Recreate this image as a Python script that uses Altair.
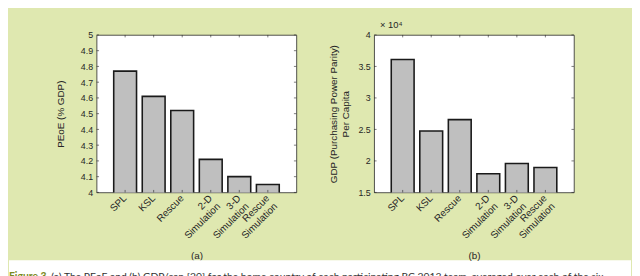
import altair as alt
import pandas as pd

# ---- data ----
categories = ["SPL", "KSL", "Rescue", "2-D|Simulation", "3-D|Simulation", "Rescue|Simulation"]
peoe_values = [4.77, 4.61, 4.52, 4.21, 4.10, 4.05]
gdp_values = [36100, 24750, 26550, 17950, 19600, 18950]
peoe_ticks = [4.0, 4.1, 4.2, 4.3, 4.4, 4.5, 4.6, 4.7, 4.8, 4.9, 5.0]
gdp_ticks = [15000, 20000, 25000, 30000, 35000, 40000]
caption_bold = "Figure 3."
caption_rest = "(a) The PEoE and (b) GDP/cap [20] for the home country of each participating RC 2013 team, averaged over each of the six"

GREEN = "#dfe8b0"
AXC = "#262626"
FONT = "Liberation Sans"
W, H = 203, 160
TL = 2.5  # inward tick length
CAP_TOP = H + 69
CAP_H = 40
NB = "\u00a0"

# multi-line tick labels; the shorter first line is centred over the second (as MATLAB does)
X_LABEL_EXPR = (
    "length(split(datum.label, '|')) > 1 ? "
    "[pad(split(datum.label, '|')[0], length(split(datum.label, '|')[0]) + "
    "floor((length(split(datum.label, '|')[1]) - length(split(datum.label, '|')[0])) * 0.72), '" + NB + "'), "
    "split(datum.label, '|')[1]] : datum.label"
)


def panel(values, ticks, domain, ytitle, xtitle, ylabel_expr, ytitle_pad, title=None, extra=None):
    df = pd.DataFrame({"cat": categories, "val": values})
    tdf = pd.DataFrame({"val": ticks})
    xscale = alt.Scale(domain=categories, paddingInner=0.2, paddingOuter=0.6)
    yscale = alt.Scale(domain=domain, nice=False, zero=False)
    x_axis = alt.Axis(
        title=xtitle, labelAngle=315, labelAlign="right", labelBaseline="middle",
        labelExpr=X_LABEL_EXPR, ticks=False, domain=False, grid=False,
        labelPadding=4, labelFont=FONT, labelFontSize=10, labelColor=AXC, labelLineHeight=11.5,
        titleFont=FONT, titleFontSize=10, titleFontWeight="normal", titleColor=AXC, titlePadding=10,
    )
    y_axis = alt.Axis(
        title=ytitle, values=ticks, labelExpr=ylabel_expr, ticks=False, domain=False, grid=False,
        labelPadding=4, labelFont=FONT, labelFontSize=9, labelColor=AXC,
        titleFont=FONT, titleFontSize=10, titleFontWeight="normal", titleColor=AXC,
        titlePadding=ytitle_pad, titleLineHeight=12,
    )
    X = alt.X("cat:N", sort=categories, scale=xscale, axis=x_axis)
    Y = alt.Y("val:Q", scale=yscale, axis=y_axis)
    bars = alt.Chart(df).mark_bar(
        fill="#bfbfbf", stroke="#1a1a1a", strokeWidth=1.6, clip=True
    ).encode(x=X, y=Y)
    tick_style = dict(color=AXC, strokeWidth=0.6)
    yl = alt.Chart(tdf).mark_rule(**tick_style).encode(y=Y, x=alt.value(0), x2=alt.value(TL))
    yr = alt.Chart(tdf).mark_rule(**tick_style).encode(y=Y, x=alt.value(W - TL), x2=alt.value(W))
    xb = alt.Chart(df).mark_rule(**tick_style).encode(x=X, y=alt.value(H - TL), y2=alt.value(H))
    xt = alt.Chart(df).mark_rule(**tick_style).encode(x=X, y=alt.value(0), y2=alt.value(TL))
    layers = [bars, yl, yr, xb, xt] + (extra or [])
    ch = alt.layer(*layers).properties(width=W, height=H)
    if title is not None:
        ch = ch.properties(title=title)
    return ch


# caption strip below the two panels (white band with the cut-off figure caption)
cap_df = pd.DataFrame({"bold": [caption_bold], "rest": [caption_rest]})
cap_rect = alt.Chart(cap_df).mark_rect(fill="white").encode(
    x=alt.value(-89), x2=alt.value(543), y=alt.value(CAP_TOP), y2=alt.value(CAP_TOP + CAP_H))
cap_t1 = alt.Chart(cap_df).mark_text(
    align="left", baseline="alphabetic", font="Lato", fontSize=10.5, fontWeight="bold", color="#7a8a22"
).encode(text="bold:N", x=alt.value(-89), y=alt.value(CAP_TOP + 20))
cap_t2 = alt.Chart(cap_df).mark_text(
    align="left", baseline="alphabetic", font="Lato", fontSize=10.5, color="#333333"
).encode(text="rest:N", x=alt.value(-89 + 43), y=alt.value(CAP_TOP + 20))

pa = panel(peoe_values, peoe_ticks, [4, 5], "PEoE (% GDP)", "(a)",
           "format(datum.value, '~g')", 15, extra=[cap_rect, cap_t1, cap_t2])
pb = panel(gdp_values, gdp_ticks, [15000, 40000],
           ["GDP (Purchasing Power Parity)", "Per Capita"], "(b)",
           "format(datum.value / 10000, '~g')", 8,
           title=alt.TitleParams("× 10⁴", anchor="start", frame="group", font=FONT,
                                 fontSize=9.5, fontWeight="normal", color=AXC, offset=2, dx=6))

chart = alt.hconcat(pa, pb, spacing=79, bounds="flush").properties(
    padding={"left": 0, "top": 9, "right": 0, "bottom": 0},
    background=GREEN,
).configure_view(fill="white", stroke=AXC, strokeWidth=0.8)

chart.save("out.html", embed_options={"renderer": "svg", "actions": False})
